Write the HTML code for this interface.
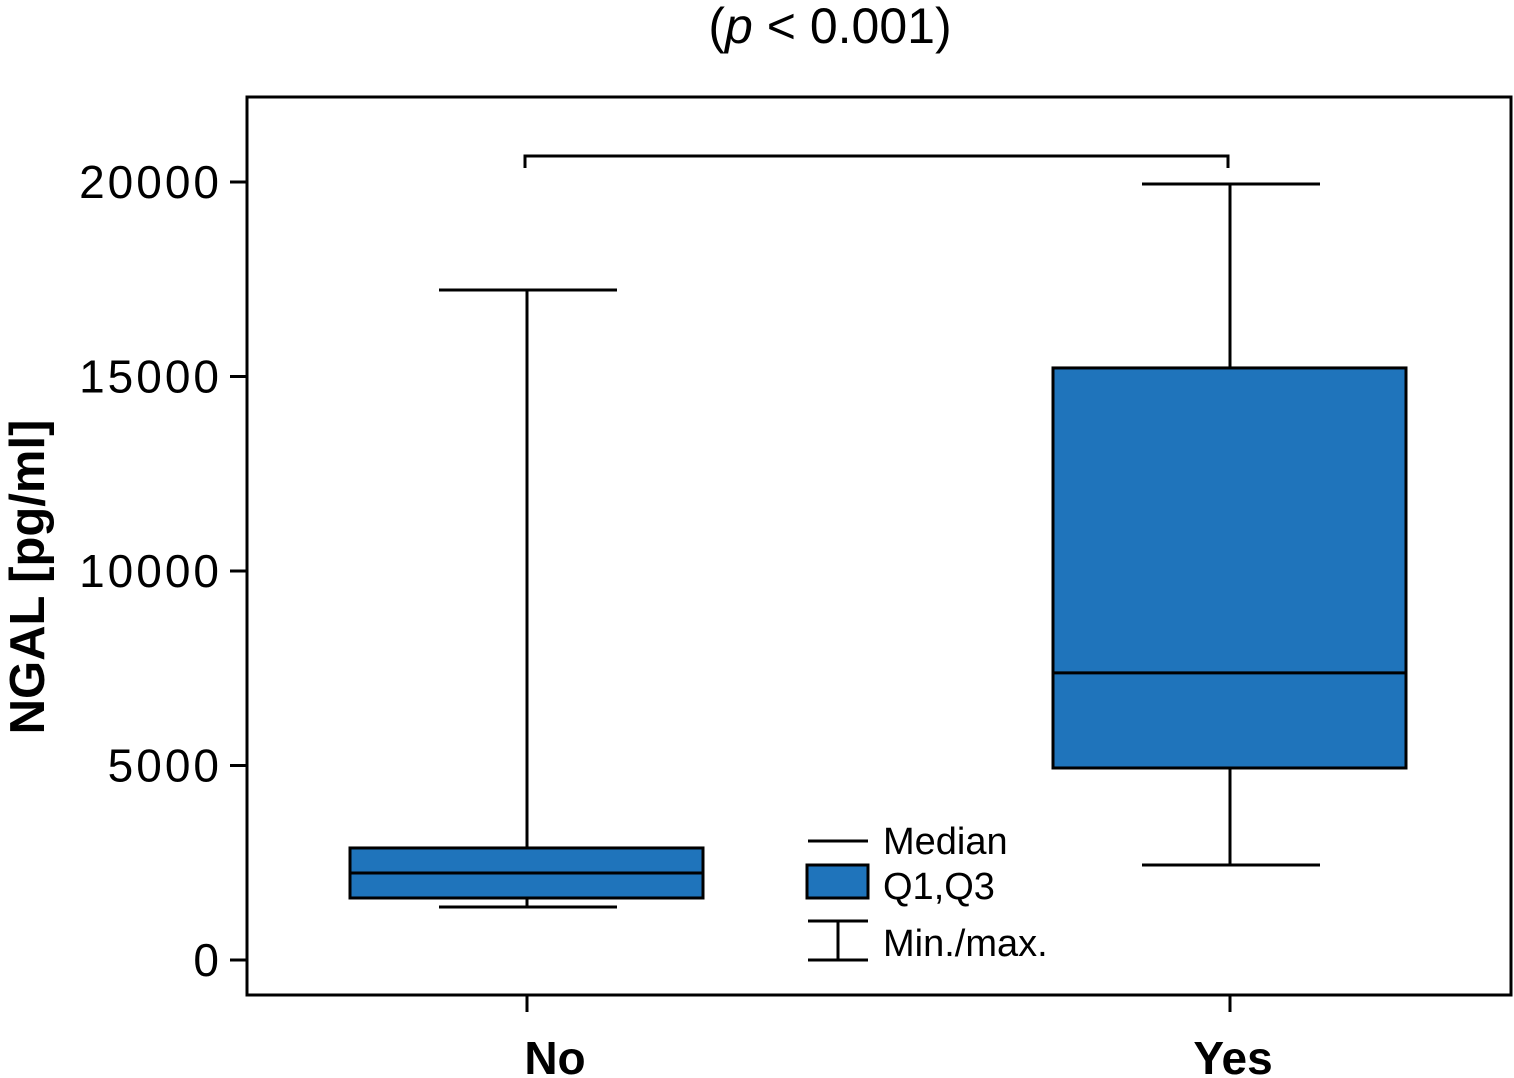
<!DOCTYPE html>
<html><head><meta charset="utf-8"><style>
html,body{margin:0;padding:0;background:#fff;}
svg{display:block;font-family:"Liberation Sans",sans-serif;}
</style></head><body>
<svg id="chart" width="1514" height="1078" viewBox="0 0 1514 1078">
<text x="830" y="43" font-size="50" text-anchor="middle">(<tspan font-style="italic">p</tspan> &lt; 0.001)</text>
<rect x="247" y="97" width="1264" height="898" fill="none" stroke="#000" stroke-width="3"/>
<g id="yaxis"></g>
<g id="xaxis"></g>
<g id="boxes"></g>
<path d="M525 168 V156 H1228 V168" fill="none" stroke="#000" stroke-width="3"/>
<text transform="translate(44,577) rotate(-90)" font-size="49" font-weight="bold" text-anchor="middle">NGAL [pg/ml]</text>
<g>
<line x1="808" y1="841" x2="868" y2="841" stroke="#000" stroke-width="3"/>
<text x="883" y="854" font-size="38">Median</text>
<rect x="807" y="865" width="61" height="33" fill="#1f74bb" stroke="#000" stroke-width="3"/>
<text x="883" y="899" font-size="38">Q1,Q3</text>
<path d="M808 921 H868 M838 921 V960 M808 960 H868" stroke="#000" stroke-width="3" fill="none"/>
<text x="883" y="956" font-size="38">Min./max.</text>
</g>
</svg>
<script>
const categories=["No","Yes"];
const mins=[1363,2442];
const q1s=[1594,4936];
const medians=[2237,7380];
const q3s=[2880,15220];
const maxs=[17225,19950];
const yTicks=[0,5000,10000,15000,20000];
const NS="http://www.w3.org/2000/svg";
const y=v=>960-v*(778/20000);
const xc=i=>527+i*703;
function mk(tag,attrs,parent){const e=document.createElementNS(NS,tag);for(const k in attrs)e.setAttribute(k,attrs[k]);parent.appendChild(e);return e;}
const ya=document.getElementById('yaxis'),xa=document.getElementById('xaxis'),bx=document.getElementById('boxes');
yTicks.forEach(t=>{
const l=mk('line',{x1:230,x2:247,y1:y(t),y2:y(t),stroke:'#000','stroke-width':3},ya);


const tx=mk('text',{x:222,y:y(t)+16,'font-size':46,'letter-spacing':3,'text-anchor':'end'},ya);
tx.textContent=t;


});
const labelOffsets=[28,3];
categories.forEach((c,i)=>{
const x=xc(i);
const l=mk('line',{x1:x,x2:x,y1:995,y2:1012,stroke:'#000','stroke-width':3},xa);


const tx=mk('text',{x:x+labelOffsets[i],y:1074,'font-size':46,'font-weight':'bold','text-anchor':'middle'},xa);
tx.textContent=c;


const g=mk('g',{},bx);


const w=mk('path',{d:`M${x-88} ${y(maxs[i])} H${x+90} M${x} ${y(maxs[i])} V${y(q3s[i])} M${x} ${y(q1s[i])} V${y(mins[i])} M${x-88} ${y(mins[i])} H${x+90}`,stroke:'#000','stroke-width':3,fill:'none'},g);


const r=mk('rect',{x:x-177,y:y(q3s[i]),width:353,height:y(q1s[i])-y(q3s[i]),fill:'#1f74bb',stroke:'#000','stroke-width':3},g);


const m=mk('line',{x1:x-177,x2:x+176,y1:y(medians[i]),y2:y(medians[i]),stroke:'#000','stroke-width':3},g);


});
</script>
</body></html>
